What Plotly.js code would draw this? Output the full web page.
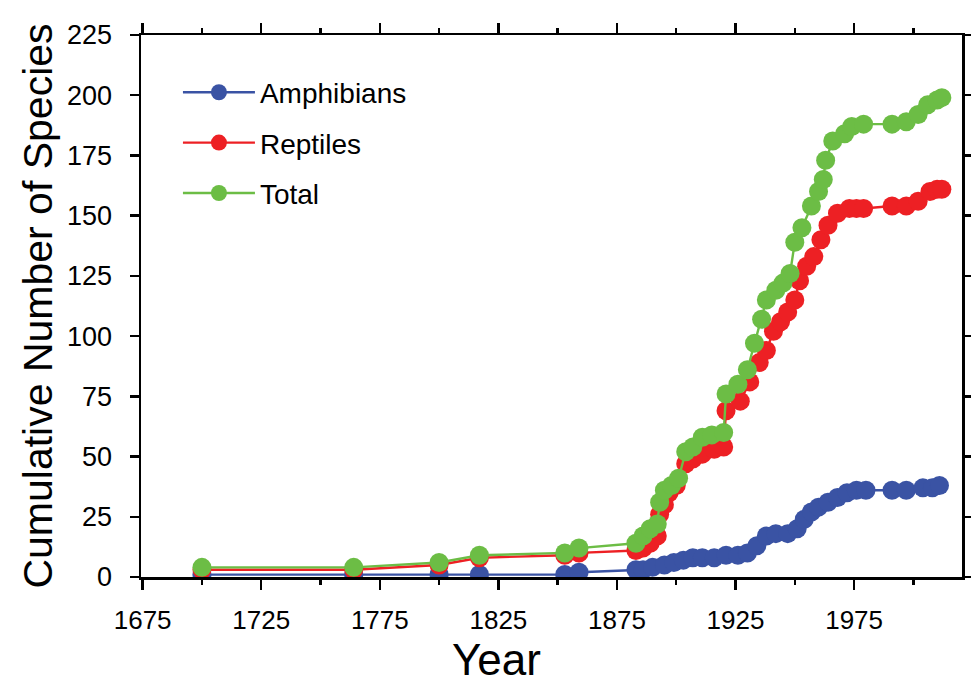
<!DOCTYPE html>
<html>
<head>
<meta charset="utf-8">
<script src="https://cdn.plot.ly/plotly-3.0.1.min.js"></script>
<style>html,body{margin:0;padding:0;background:#fff;}#chart{width:971px;height:687px;}</style>
</head>
<body>
<div id="chart"></div>
<script>
const seriesNames = ["Amphibians", "Reptiles", "Total"];
const seriesColors = ["#3A53A4", "#ED2024", "#6CBD45"];

const amphYears  = [1700,1764,1800,1817,1853,1859,1883,1886,1890,1895,1899,1903,1907,1911,1916,1921,1926,1930,1934,1938,1942,1947,1951,1954,1957,1960,1964,1968,1972,1976,1980,1991,1997,2004,2008,2011];
const amphValues = [1,1,1,1,1,2,3,3,4,5,6,7,8,8,8,9,9,10,13,17,18,18,20,24,27,29,31,33,35,36,36,36,36,37,37,38];

const reptYears  = [1700,1764,1800,1817,1853,1859,1883,1886,1889,1892,1893,1895,1897,1900,1904,1907,1911,1916,1920,1921,1927,1931,1935,1938,1941,1944,1947,1950,1952,1955,1958,1961,1964,1968,1973,1976,1979,1991,1997,2002,2007,2010,2012];
const reptValues = [3,3,5,8,9,10,11,12,14,17,26,30,35,38,47,49,51,53,54,69,73,81,89,94,102,106,110,115,123,129,133,140,146,151,153,153,153,154,154,156,160,161,161];

const totalYears  = [1700,1764,1800,1817,1853,1859,1883,1886,1889,1892,1893,1895,1898,1901,1904,1907,1911,1915,1920,1921,1926,1930,1933,1936,1938,1942,1945,1948,1950,1953,1957,1960,1962,1963,1966,1971,1974,1979,1991,1997,2002,2006,2010,2012];
const totalValues = [4,4,6,9,10,12,14,17,20,22,31,36,38,41,52,54,58,59,60,76,80,86,97,107,115,119,122,126,139,145,154,160,165,173,181,184,187,188,188,189,192,196,198,199];

const xs = [amphYears, reptYears, totalYears];
const ys = [amphValues, reptValues, totalValues];

const traces = seriesNames.map((name, i) => ({
  type: "scatter",
  mode: "lines+markers",
  name: name,
  legendgroup: name,
  x: xs[i],
  y: ys[i],
  line: {color: seriesColors[i], width: 2.4},
  marker: {color: seriesColors[i], size: 19}
}));

const FONT = "Liberation Sans, Arial, Helvetica, sans-serif";

const layout = {
  width: 971,
  height: 687,
  margin: {l: 141, r: 9, t: 35, b: 110},
  paper_bgcolor: "#fff",
  plot_bgcolor: "#fff",
  font: {family: FONT, color: "#000", size: 26},
  showlegend: true,
  legend: {
    x: 0.045, y: 0.94, xanchor: "left", yanchor: "top",
    font: {family: FONT, size: 28, color: "#000"},
    bgcolor: "rgba(0,0,0,0)",
    tracegroupgap: 11,
    itemwidth: 72
  },
  xaxis: {
    range: [1674.3, 2020.5],
    tick0: 1675, dtick: 50,
    ticks: "outside", ticklen: 10, tickwidth: 2.5, tickcolor: "#000",
    ticklabelstandoff: 8,
    minor: {dtick: 25, tick0: 1675, ticks: "outside", ticklen: 5, tickwidth: 2.5, tickcolor: "#000"},
    showline: true, linecolor: "#000", linewidth: 2.5, mirror: "ticks",
    showgrid: false, zeroline: false,
    tickfont: {family: FONT, size: 26, color: "#000"}
  },
  yaxis: {
    range: [0, 225],
    tick0: 0, dtick: 25,
    ticks: "outside", ticklen: 9, tickwidth: 2.5, tickcolor: "#000",
    ticklabelstandoff: 12,
    showline: true, linecolor: "#000", linewidth: 2.5, mirror: "ticks",
    showgrid: false, zeroline: false,
    tickfont: {family: FONT, size: 27, color: "#000"},
    title: {text: "Cumulative Number of Species", font: {family: FONT, size: 41, color: "#000"}, standoff: 2}
  },
  annotations: [{
    text: "Year", xref: "paper", yref: "paper",
    x: 0.4336, y: -0.153, xanchor: "center", yanchor: "middle",
    showarrow: false, font: {family: FONT, size: 44, color: "#000"}
  }]
};

Plotly.newPlot("chart", traces, layout, {displayModeBar: false, staticPlot: true});
</script>
</body>
</html>
